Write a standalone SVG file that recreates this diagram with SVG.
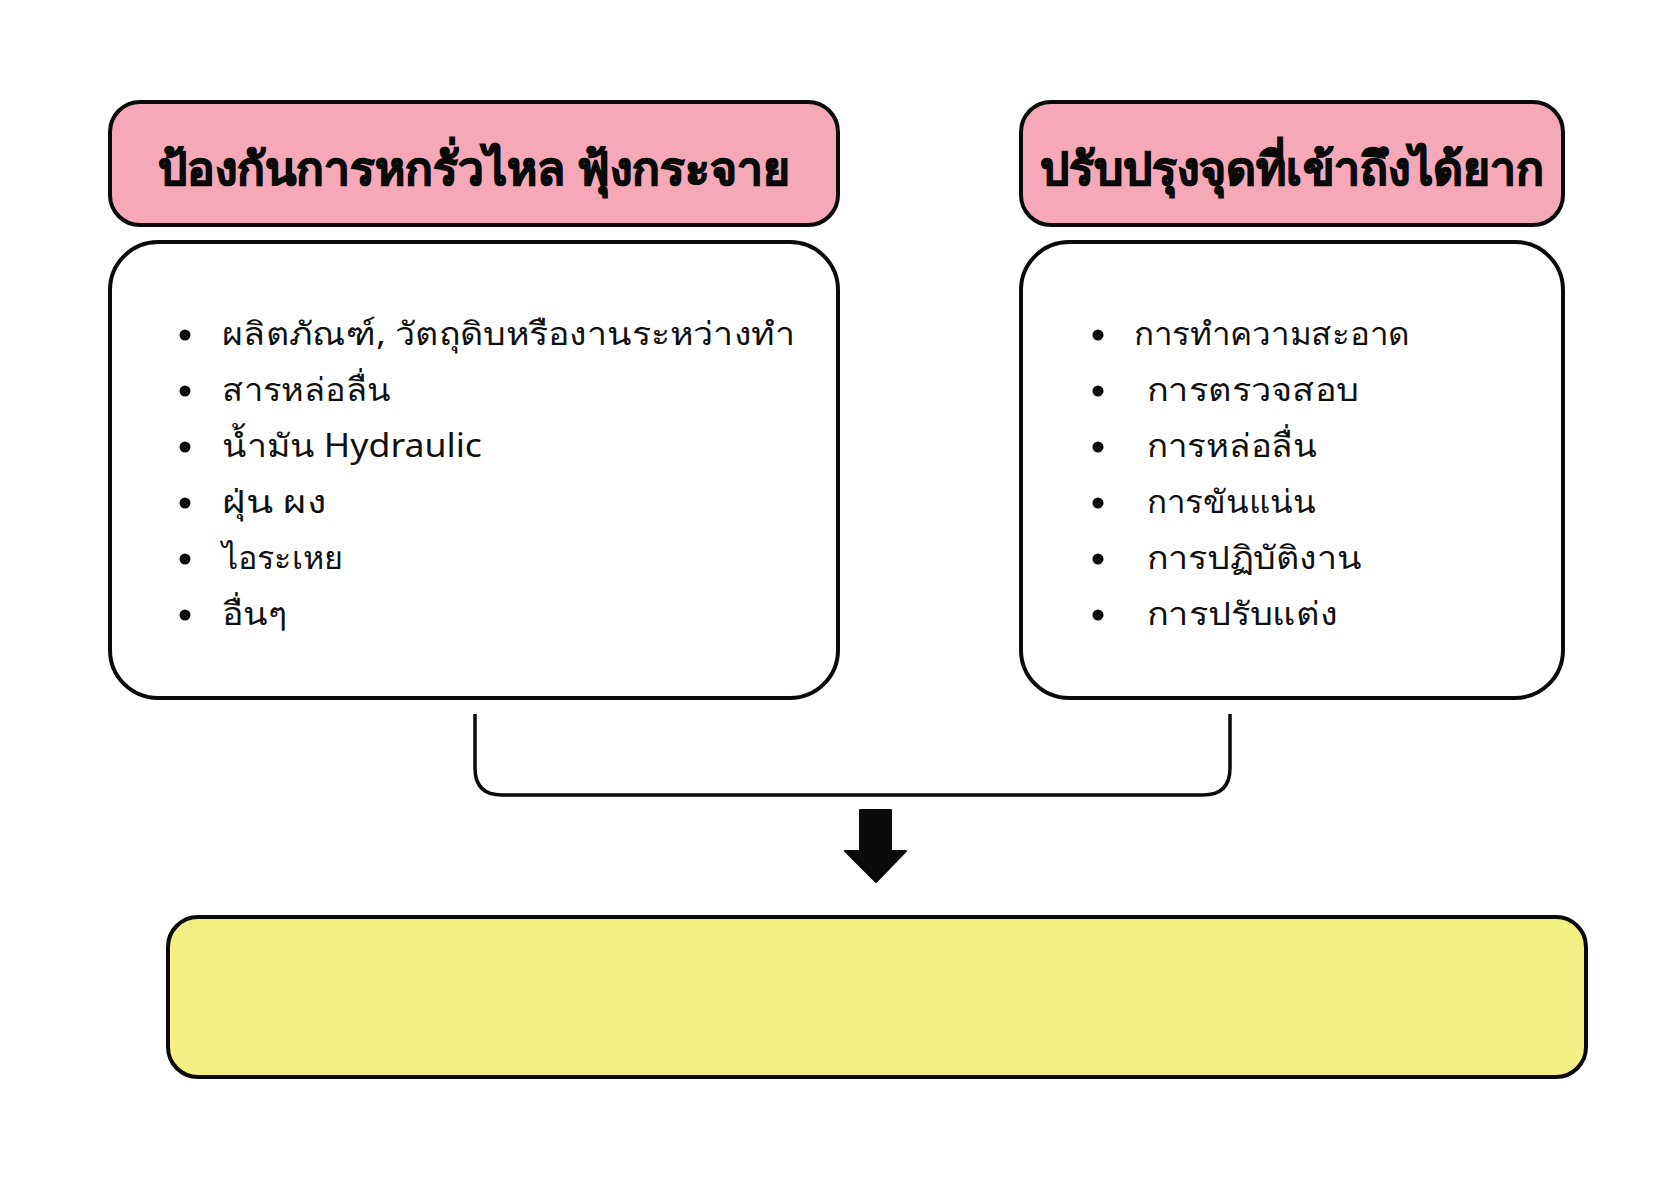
<svg xmlns="http://www.w3.org/2000/svg" width="1680" height="1188" viewBox="0 0 1680 1188">
<style>
.box{stroke:#0a0a0a;stroke-width:4}
.pink{fill:#f5a9b8}
.white{fill:#ffffff}
.yellow{fill:#f3ef82}
.hdr{font-family:"Noto Sans","DejaVu Sans",sans-serif;font-weight:700;font-size:46px;fill:#0a0a0a;stroke:#0a0a0a;stroke-width:1.2;text-anchor:middle}
.item{font-family:"Noto Sans","DejaVu Sans",sans-serif;font-size:32px;fill:#111111}
.dot{fill:#0a0a0a}
.conn{fill:none;stroke:#0a0a0a;stroke-width:3.5;stroke-linecap:butt}
</style>
<rect width="1680" height="1188" fill="#ffffff"/>
<g id="header-left">
<rect class="box pink" x="110" y="102" width="728" height="123" rx="30"/>
<text class="hdr" x="474" y="185" textLength="632" lengthAdjust="spacingAndGlyphs">ป้องกันการหกรั่วไหล ฟุ้งกระจาย</text>
</g>
<g id="header-right">
<rect class="box pink" x="1021" y="102" width="542" height="123" rx="30"/>
<text class="hdr" x="1292" y="185" textLength="505" lengthAdjust="spacingAndGlyphs">ปรับปรุงจุดที่เข้าถึงได้ยาก</text>
</g>
<g id="list-left">
<rect class="box white" x="110" y="242" width="728" height="456" rx="48"/>
<circle class="dot" cx="185" cy="335" r="5.5"/>
<circle class="dot" cx="185" cy="391" r="5.5"/>
<circle class="dot" cx="185" cy="447" r="5.5"/>
<circle class="dot" cx="185" cy="503" r="5.5"/>
<circle class="dot" cx="185" cy="559" r="5.5"/>
<circle class="dot" cx="185" cy="615" r="5.5"/>
<text class="item" x="222" y="345" textLength="573" lengthAdjust="spacingAndGlyphs">ผลิตภัณฑ์, วัตถุดิบหรืองานระหว่างทำ</text>
<text class="item" x="222" y="401" textLength="169" lengthAdjust="spacingAndGlyphs">สารหล่อลื่น</text>
<text class="item" x="222" y="457" textLength="260" lengthAdjust="spacingAndGlyphs">น้ำมัน Hydraulic</text>
<text class="item" x="222" y="513" textLength="105" lengthAdjust="spacingAndGlyphs">ฝุ่น ผง</text>
<text class="item" x="222" y="569" textLength="121" lengthAdjust="spacingAndGlyphs">ไอระเหย</text>
<text class="item" x="222" y="625" textLength="65" lengthAdjust="spacingAndGlyphs">อื่นๆ</text>
</g>
<g id="list-right">
<rect class="box white" x="1021" y="242" width="542" height="456" rx="48"/>
<circle class="dot" cx="1098" cy="335" r="5.5"/>
<circle class="dot" cx="1098" cy="391" r="5.5"/>
<circle class="dot" cx="1098" cy="447" r="5.5"/>
<circle class="dot" cx="1098" cy="503" r="5.5"/>
<circle class="dot" cx="1098" cy="559" r="5.5"/>
<circle class="dot" cx="1098" cy="615" r="5.5"/>
<text class="item" x="1134" y="345" textLength="276" lengthAdjust="spacingAndGlyphs">การทำความสะอาด</text>
<text class="item" x="1147" y="401" textLength="212" lengthAdjust="spacingAndGlyphs">การตรวจสอบ</text>
<text class="item" x="1147" y="457" textLength="170" lengthAdjust="spacingAndGlyphs">การหล่อลื่น</text>
<text class="item" x="1147" y="513" textLength="169" lengthAdjust="spacingAndGlyphs">การขันแน่น</text>
<text class="item" x="1147" y="569" textLength="215" lengthAdjust="spacingAndGlyphs">การปฏิบัติงาน</text>
<text class="item" x="1147" y="625" textLength="191" lengthAdjust="spacingAndGlyphs">การปรับแต่ง</text>
</g>
<g id="connectors">
<path class="conn" d="M475,714 V768 Q475,795 502,795 H1203 Q1230,795 1230,768 V714"/>
<polygon id="arrow-down" fill="#0a0a0a" stroke="#0a0a0a" stroke-width="2" stroke-linejoin="round" points="860,810 891,810 891,851 906,851 876,882 845,851 860,851"/>
</g>
<g id="result-box">
<rect class="box yellow" x="168" y="917" width="1418" height="160" rx="30"/>
</g>
</svg>
